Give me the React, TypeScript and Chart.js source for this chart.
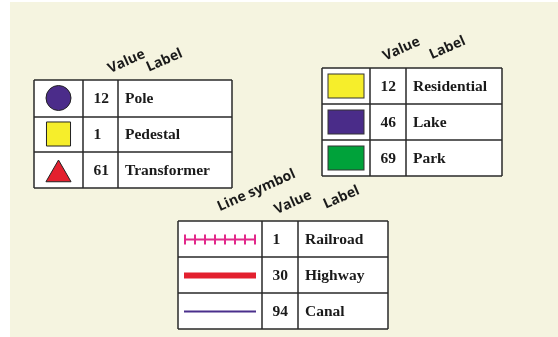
import React, { useEffect, useRef } from "react";
import { Chart, registerables } from "chart.js";
Chart.register(...registerables);

// ---- data ----
const pointLabels = ["Pole", "Pedestal", "Transformer"];
const pointValues = [12, 1, 61];
const pointStyles = ["circle", "rect", "triangle"];
const pointColors = ["#4B2C8A", "#F6EE2B", "#E3202E"];

const areaLabels = ["Residential", "Lake", "Park"];
const areaValues = [12, 46, 69];
const areaColors = ["#F6EE2B", "#4A2C89", "#00A23A"];

const lineLabels = ["Railroad", "Highway", "Canal"];
const lineValues = [1, 30, 94];
const lineColors = ["#E2288A", "#E3202E", "#4A2F8C"];
const lineKinds = ["railroad", "thick", "thin"];

const headers1 = ["Value", "Label"];
const headers2 = ["Value", "Label"];
const headers3 = ["Line symbol", "Value", "Label"];

// ---- layout (not data) ----
const T1 = { xs: [34, 83, 118, 232], ys: [80, 117, 152, 188] };
const T2 = { xs: [322, 370, 406, 502], ys: [68, 104, 140, 176] };
const T3 = { xs: [178, 262, 298, 388], ys: [221, 257, 293, 329] };
const H1 = [[126.5, 61.5], [164.5, 60.5]];
const H2 = [[401.5, 49], [447.5, 48]];
const H3 = [[256.5, 190.5], [293, 202.5], [341.5, 197.5]];
const pointRadii = [12.5, 17, 14.5];
const pointDy = [-0.5, -0.5, 4.5];

const W = 558;
const H = 337;

export default function App() {
  const ref = useRef<HTMLCanvasElement | null>(null);

  useEffect(() => {
    document.body.style.margin = "0";
    const canvas = ref.current;
    if (!canvas) return;

    const rowC = (t: any, i: number) => (t.ys[i] + t.ys[i + 1]) / 2;

    const tablePlugin = {
      id: "tables",
      beforeDatasetsDraw(chart: any) {
        const ctx = chart.ctx as CanvasRenderingContext2D;
        const xs = chart.scales.x;
        const ys = chart.scales.y;
        const px = (v: number) => xs.getPixelForValue(v);
        const py = (v: number) => ys.getPixelForValue(v);
        ctx.save();
        // background
        ctx.fillStyle = "#F5F4E0";
        ctx.fillRect(px(10), py(2), px(W) - px(10), py(H) - py(2));

        const drawTable = (t: any, values: number[], labels: string[]) => {
          const x0 = px(t.xs[0]), x1 = px(t.xs[3]);
          const y0 = py(t.ys[0]), y1 = py(t.ys[3]);
          ctx.fillStyle = "#FFFFFF";
          ctx.fillRect(x0, y0, x1 - x0, y1 - y0);
          ctx.strokeStyle = "#2A2A2A";
          ctx.lineWidth = 1.5;
          ctx.beginPath();
          for (const xv of t.xs) {
            ctx.moveTo(px(xv), y0);
            ctx.lineTo(px(xv), y1);
          }
          for (const yv of t.ys) {
            ctx.moveTo(x0, py(yv));
            ctx.lineTo(x1, py(yv));
          }
          ctx.stroke();
          ctx.fillStyle = "#1A1A1A";
          ctx.font = "bold 15.5px 'Liberation Serif', 'Times New Roman', serif";
          ctx.textAlign = "left";
          ctx.textBaseline = "alphabetic";
          for (let i = 0; i < values.length; i++) {
            const yb = py(rowC(t, i) + 4.5);
            ctx.fillText(String(values[i]), px(t.xs[1] + 10.5), yb);
            ctx.fillText(labels[i], px(t.xs[2] + 7), yb);
          }
        };

        const drawHeaders = (hs: string[], pos: number[][]) => {
          ctx.fillStyle = "#1A1A1A";
          ctx.font = "bold 14px 'Open Sans', sans-serif";
          ctx.textAlign = "center";
          ctx.textBaseline = "middle";
          hs.forEach((h, i) => {
            ctx.save();
            ctx.translate(px(pos[i][0]), py(pos[i][1]));
            ctx.rotate((-24 * Math.PI) / 180);
            ctx.fillText(h, 0, 0);
            ctx.restore();
          });
        };

        drawTable(T1, pointValues, pointLabels);
        drawTable(T2, areaValues, areaLabels);
        drawTable(T3, lineValues, lineLabels);
        drawHeaders(headers1, H1);
        drawHeaders(headers2, H2);
        drawHeaders(headers3, H3);

        // area swatches
        for (let i = 0; i < areaColors.length; i++) {
          const cy = rowC(T2, i);
          const sx0 = px(T2.xs[0] + 6), sx1 = px(T2.xs[1] - 6);
          const sy0 = py(cy - 12), sy1 = py(cy + 12);
          ctx.fillStyle = areaColors[i];
          ctx.fillRect(sx0, sy0, sx1 - sx0, sy1 - sy0);
          ctx.strokeStyle = "#333333";
          ctx.lineWidth = 1;
          ctx.strokeRect(sx0, sy0, sx1 - sx0, sy1 - sy0);
        }

        // line symbols
        for (let i = 0; i < lineKinds.length; i++) {
          const cy = py(rowC(T3, i) + 0.5);
          const lx0 = px(T3.xs[0] + 6), lx1 = px(T3.xs[1] - 6);
          ctx.strokeStyle = lineColors[i];
          ctx.lineCap = "butt";
          if (lineKinds[i] === "railroad") {
            ctx.lineWidth = 2;
            ctx.beginPath();
            ctx.moveTo(lx0, cy);
            ctx.lineTo(lx1, cy);
            const n = 8;
            for (let k = 0; k < n; k++) {
              const tx = lx0 + 1 + ((lx1 - lx0 - 2) * k) / (n - 1);
              ctx.moveTo(tx, cy - 5);
              ctx.lineTo(tx, cy + 5);
            }
            ctx.stroke();
          } else if (lineKinds[i] === "thick") {
            ctx.lineWidth = 6;
            ctx.beginPath();
            ctx.moveTo(lx0, cy);
            ctx.lineTo(lx1, cy);
            ctx.stroke();
          } else {
            ctx.lineWidth = 2;
            ctx.beginPath();
            ctx.moveTo(lx0, cy);
            ctx.lineTo(lx1, cy);
            ctx.stroke();
          }
        }
        ctx.restore();
      },
    };

    const symbolData = pointLabels.map((_, i) => ({
      x: (T1.xs[0] + T1.xs[1]) / 2,
      y: rowC(T1, i) + pointDy[i],
    }));

    const chart = new Chart(canvas, {
      type: "scatter",
      data: {
        datasets: [
          {
            label: "Point symbols",
            data: symbolData,
            pointStyle: pointStyles as any,
            pointRadius: pointRadii,
            pointBackgroundColor: pointColors,
            pointBorderColor: "#222222",
            pointBorderWidth: 1,
            clip: false,
          },
        ],
      },
      options: {
        animation: false,
        responsive: false,
        devicePixelRatio: 1,
        layout: { padding: 0, autoPadding: false },
        plugins: { legend: { display: false }, tooltip: { enabled: false } },
        events: [],
        scales: {
          x: { type: "linear", min: 0, max: W, display: false },
          y: { type: "linear", min: 0, max: H, reverse: true, display: false },
        },
      },
      plugins: [tablePlugin],
    });
    return () => chart.destroy();
  }, []);

  return (
    <canvas
      ref={ref}
      width={W}
      height={H}
      style={{ display: "block", width: W, height: H }}
    />
  );
}
